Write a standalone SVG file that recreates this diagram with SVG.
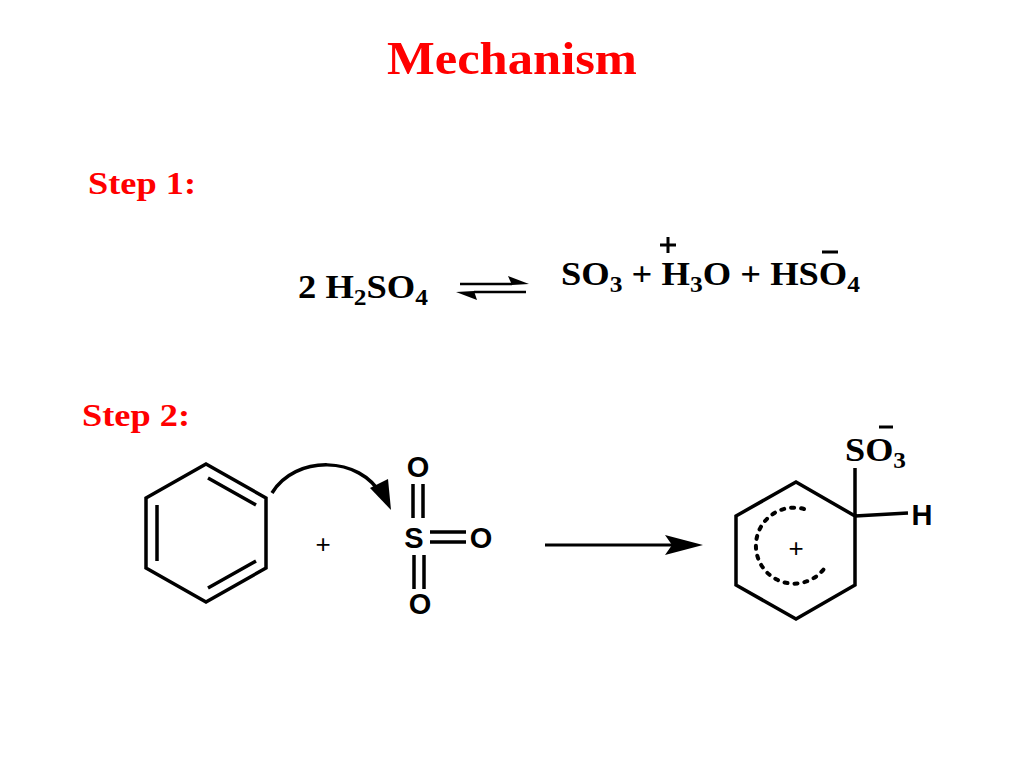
<svg xmlns="http://www.w3.org/2000/svg" width="1024" height="768" viewBox="0 0 1024 768">
<style>
.t{font-family:"Liberation Serif",serif;font-weight:bold;fill:#000}
.r{fill:#ff0000}
.a{font-family:"Liberation Sans",sans-serif;font-weight:bold;fill:#000}
.b{stroke:#000;stroke-width:3.5;fill:none;stroke-linejoin:miter}
</style>
<rect width="1024" height="768" fill="#fff"/>
<text class="t r" x="387" y="74" font-size="46" textLength="250" lengthAdjust="spacingAndGlyphs">Mechanism</text>
<text class="t r" x="88" y="194" font-size="31" textLength="108" lengthAdjust="spacingAndGlyphs">Step 1:</text>
<text class="t r" x="82" y="426" font-size="31" textLength="108" lengthAdjust="spacingAndGlyphs">Step 2:</text>
<g id="eq1">
<text class="t" x="298" y="298" font-size="33" textLength="130" lengthAdjust="spacingAndGlyphs">2 H<tspan font-size="23" dy="7">2</tspan><tspan dy="-7">SO</tspan><tspan font-size="23" dy="7">4</tspan></text>
<path d="M460,284H512M474,292H526" stroke="#000" stroke-width="2.5"/>
<path d="M529,284L508,276L512,285Z"/>
<path d="M456,292L477,300L474,291Z"/>
<text class="t" x="561" y="285" font-size="33" textLength="299" lengthAdjust="spacingAndGlyphs">SO<tspan font-size="23" dy="7">3</tspan><tspan dy="-7"> + H</tspan><tspan font-size="23" dy="7">3</tspan><tspan dy="-7">O + HSO</tspan><tspan font-size="23" dy="7">4</tspan></text>
<path d="M660,245H676M668,237V253M822,252H838" stroke="#000" stroke-width="3"/>
</g>
<g id="benzene">
<path class="b" d="M206,464L266,498L266,568L206,602L146,568L146,498Z"/>
<path class="b" d="M208,478L256,505M157,505V561M256,561L208,588"/>
</g>
<text class="a" x="323" y="553" font-size="26" font-weight="normal" text-anchor="middle" style="font-weight:normal">+</text>
<g id="so3">
<text class="a" x="414" y="548" font-size="29" text-anchor="middle">S</text>
<text class="a" x="418" y="477" font-size="29" text-anchor="middle">O</text>
<text class="a" x="481" y="548" font-size="29" text-anchor="middle">O</text>
<text class="a" x="420" y="614" font-size="29" text-anchor="middle">O</text>
<path d="M413,484V518M423,484V518M430,532H466M430,542H466M414,555V589M424,555V589" stroke="#000" stroke-width="3.5"/>
</g>
<g id="connectors">
<path d="M272,493C295,455 360,455 382,496" stroke="#000" stroke-width="3.5" fill="none"/>
<path d="M391,510L370,488L388,479Z"/>
<path d="M545,545H680" stroke="#000" stroke-width="3"/>
<path d="M703,545L665,535L672,545L665,555Z"/>
</g>
<g id="product">
<path class="b" d="M796,482L855,516L855,585L796,619L736,585L736,516Z"/>
<path class="b" d="M855,516V468M855,516L908,513"/>
<path d="M804,509A38,38 0 1 0 826,566" stroke="#000" stroke-width="4" fill="none" stroke-dasharray="3,7" stroke-linecap="round"/>
<text class="a" x="796" y="557" font-size="26" text-anchor="middle" style="font-weight:normal">+</text>
<text class="a" x="922" y="525" font-size="29" text-anchor="middle">H</text>
<text class="t" x="845" y="461" font-size="33" textLength="61" lengthAdjust="spacingAndGlyphs">SO<tspan font-size="23" dy="7">3</tspan></text>
<path d="M879,427H893" stroke="#000" stroke-width="3"/>
</g>
</svg>
